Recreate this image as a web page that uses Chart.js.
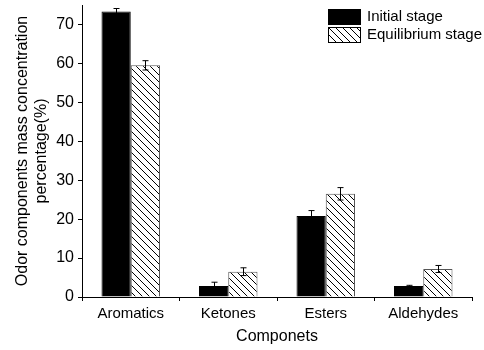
<!DOCTYPE html>
<html>
<head>
<meta charset="utf-8">
<script src="https://cdn.jsdelivr.net/npm/chart.js@4"></script>
<style>
  body { margin: 0; background: #fff; }
  #wrap { width: 484px; height: 350px; }
</style>
</head>
<body>
<div id="wrap"><canvas id="chart" width="484" height="350"></canvas></div>
<script>
// data
const categories = ['Aromatics', 'Ketones', 'Esters', 'Aldehydes'];
const initialStage = [73.3, 2.8, 20.8, 2.8];
const initialErr = [0.8, 1.0, 1.4, 0.2];
const equilibriumStage = [59.5, 6.5, 26.5, 7.2];
const equilibriumErr = [1.2, 1.0, 1.6, 0.9];
const seriesNames = ['Initial stage', 'Equilibrium stage'];

const font = 'Arial, "Liberation Sans", sans-serif';

// hatch pattern "\\\\" for the second series
function makeHatch() {
  const c = document.createElement('canvas');
  c.width = 7; c.height = 7;
  const g = c.getContext('2d');
  g.fillStyle = '#fff';
  g.fillRect(0, 0, 7, 7);
  g.strokeStyle = '#000';
  g.lineWidth = 1;
  g.beginPath();
  g.moveTo(-1, -1); g.lineTo(8, 8);
  g.moveTo(-1, 6); g.lineTo(1, 8);
  g.moveTo(6, -1); g.lineTo(8, 1);
  g.stroke();
  return g.createPattern(c, 'repeat');
}
const hatch = makeHatch();

// error bars with small caps
const errorBars = {
  id: 'errorBars',
  afterDatasetsDraw(chart) {
    const ctx = chart.ctx;
    const y = chart.scales.y;
    const errs = [initialErr, equilibriumErr];
    ctx.save();
    ctx.strokeStyle = '#000';
    ctx.lineWidth = 1;
    chart.data.datasets.forEach((ds, i) => {
      chart.getDatasetMeta(i).data.forEach((bar, j) => {
        const v = ds.data[j], e = errs[i][j];
        const x = Math.round(bar.x) + 0.5;
        const top = y.getPixelForValue(v + e);
        const bot = y.getPixelForValue(v - e);
        ctx.beginPath();
        ctx.moveTo(x, top); ctx.lineTo(x, bot);
        ctx.moveTo(x - 3, top); ctx.lineTo(x + 3, top);
        ctx.moveTo(x - 3, bot); ctx.lineTo(x + 3, bot);
        ctx.stroke();
      });
    });
    ctx.restore();
  }
};

// legend in the upper right corner of the plot
const boxLegend = {
  id: 'boxLegend',
  afterDraw(chart) {
    const ctx = chart.ctx;
    const fills = ['#000', hatch];
    ctx.save();
    ctx.font = '15px ' + font;
    ctx.textBaseline = 'middle';
    seriesNames.forEach((name, i) => {
      const top = 9 + i * 18;
      ctx.fillStyle = fills[i];
      ctx.fillRect(328, top, 33, 16);
      ctx.strokeStyle = '#000';
      ctx.lineWidth = 1;
      ctx.strokeRect(328.5, top + 0.5, 32, 15);
      ctx.fillStyle = '#000';
      ctx.fillText(name, 367, top + 8);
    });
    ctx.restore();
  }
};

new Chart(document.getElementById('chart'), {
  type: 'bar',
  data: {
    labels: categories,
    datasets: [
      {
        label: seriesNames[0],
        data: initialStage,
        backgroundColor: '#000',
        borderColor: '#000',
        borderWidth: 1
      },
      {
        label: seriesNames[1],
        data: equilibriumStage,
        backgroundColor: hatch,
        borderColor: '#555',
        borderWidth: 1
      }
    ]
  },
  options: {
    responsive: false,
    animation: false,
    devicePixelRatio: 1,
    layout: { padding: { top: 5, right: 12, left: 0, bottom: 0 } },
    datasets: { bar: { categoryPercentage: 0.6, barPercentage: 1 } },
    plugins: { legend: { display: false }, tooltip: { enabled: false } },
    scales: {
      x: {
        offset: true,
        grid: { offset: true, drawOnChartArea: false, tickLength: 4, color: '#000' },
        border: { display: true, color: '#000', width: 1 },
        ticks: { color: '#000', font: { family: font, size: 15 }, padding: 4 },
        title: { display: true, text: 'Componets', color: '#000', font: { family: font, size: 16 }, padding: { top: 5 } },
        afterFit(scale) { scale.height = 53; }
      },
      y: {
        min: 0,
        max: 75,
        grid: { drawOnChartArea: false, tickLength: 4, color: '#000' },
        border: { display: true, color: '#000', width: 1 },
        ticks: {
          stepSize: 5,
          color: '#000',
          font: { family: font, size: 16 },
          padding: 4,
          callback: v => (v % 10 === 0 ? v : '')
        },
        title: {
          display: true,
          text: ['Odor components mass concentration', 'percentage(%)'],
          color: '#000',
          font: { family: font, size: 16 },
          padding: { top: 13, bottom: 0 }
        },
        afterFit(scale) {
          scale.width = 82;
          scale.paddingTop = 0;
          scale.paddingBottom = 0;
        }
      }
    }
  },
  plugins: [errorBars, boxLegend]
});
</script>
</body>
</html>
